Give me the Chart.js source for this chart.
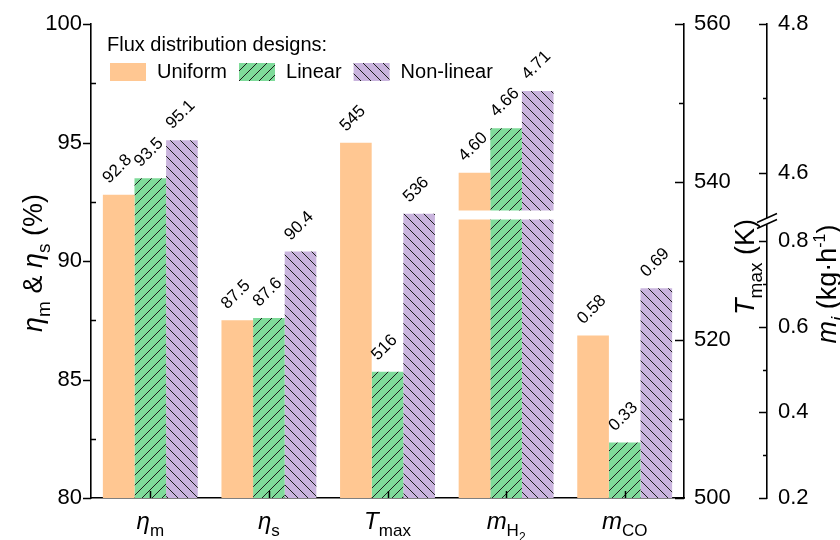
<!DOCTYPE html>
<html>
<head>
<meta charset="utf-8">
<script src="https://cdn.jsdelivr.net/npm/chart.js@4.4.1/dist/chart.umd.min.js"></script>
<style>
  html, body { margin: 0; padding: 0; background: #fff; }
  #wrap { width: 840px; height: 540px; }
</style>
</head>
<body>
<div id="wrap"><canvas id="chart" width="840" height="540"></canvas></div>
<script>
// ---- data ----
const categories = ['ηm', 'ηs', 'Tmax', 'mH2', 'mCO'];
const seriesNames = ['Uniform', 'Linear', 'Non-linear'];
const etaM = [92.8, 93.5, 95.1];     // %
const etaS = [87.5, 87.6, 90.4];     // %
const tMax = [545, 516, 536];        // K
const mH2 = [4.60, 4.66, 4.71];      // kg·h-1
const mCO = [0.58, 0.33, 0.69];      // kg·h-1

// ---- axis ticks ----
const etaTicks = [80, 85, 90, 95, 100];
const etaMinor = [82.5, 87.5, 92.5, 97.5];
const tTicks = [500, 520, 540, 560];
const tMinor = [510, 530, 550];
const mLowTicks = [0.2, 0.4, 0.6, 0.8];
const mLowMinor = [0.3, 0.5, 0.7];
const mHighTicks = [4.6, 4.8];
const mHighMinor = [4.7];

// category labels as rich text runs: [text, style]
const categoryLabels = [
  [['η', 'i'], ['m', 'sub']],
  [['η', 'i'], ['s', 'sub']],
  [['T', 'i'], ['max', 'sub']],
  [['m', 'i'], ['H', 'sub'], ['2', 'ss']],
  [['m', 'i'], ['CO', 'sub']]
];
const legendTitle = 'Flux distribution designs:';

const FONT = "'Liberation Sans', Arial, Helvetica, sans-serif";
const INK = '#000';
const colors = ['#ffc792', '#7fdb9a', '#c9b4dd'];

function hatch(bg, dir) {
  const s = 10;
  const c = document.createElement('canvas');
  c.width = s; c.height = s;
  const g = c.getContext('2d');
  g.fillStyle = bg;
  g.fillRect(0, 0, s, s);
  g.strokeStyle = '#1c1c1c';
  g.lineWidth = 1;
  g.beginPath();
  if (dir > 0) {
    g.moveTo(0, s); g.lineTo(s, 0);
    g.moveTo(-2, 2); g.lineTo(2, -2);
    g.moveTo(s - 2, s + 2); g.lineTo(s + 2, s - 2);
  } else {
    g.moveTo(0, 0); g.lineTo(s, s);
    g.moveTo(-2, s - 2); g.lineTo(2, s + 2);
    g.moveTo(s - 2, -2); g.lineTo(s + 2, 2);
  }
  g.stroke();
  return g.createPattern(c, 'repeat');
}
const fills = [colors[0], hatch(colors[1], 1), hatch(colors[2], -1)];

// one dataset per series and value axis; the stack key keeps each series in one slot
const datasets = [];
seriesNames.forEach((name, s) => {
  const common = { label: name, stack: name, backgroundColor: fills[s], borderWidth: 0, clip: 0 };
  datasets.push({ ...common, yAxisID: 'yEta', data: [etaM[s], etaS[s], null, null, null], digits: 1, inLegend: true });
  datasets.push({ ...common, yAxisID: 'yT', data: [null, null, tMax[s], null, null], digits: 0 });
  datasets.push({ ...common, yAxisID: 'yMLow', data: [null, null, null, mH2[s], mCO[s]], digits: 2, noLabel: [3] });
  datasets.push({ ...common, yAxisID: 'yMHigh', data: [null, null, null, mH2[s], null], digits: 2, base: 4.549 });
});

// ---- rich text helper ----
function runFont(style, S) {
  switch (style) {
    case 'i': return { font: `italic ${S}px ${FONT}`, dy: 0 };
    case 'sub': return { font: `${Math.round(S * 0.72)}px ${FONT}`, dy: S * 0.3 };
    case 'subi': return { font: `italic ${Math.round(S * 0.72)}px ${FONT}`, dy: S * 0.3 };
    case 'sup': return { font: `${Math.round(S * 0.6)}px ${FONT}`, dy: -S * 0.4 };
    case 'ss': return { font: `${Math.round(S * 0.5)}px ${FONT}`, dy: S * 0.52 };
    default: return { font: `${S}px ${FONT}`, dy: 0 };
  }
}
function drawRich(ctx, runs, x, y, S) {
  ctx.textAlign = 'left';
  ctx.textBaseline = 'alphabetic';
  const widths = runs.map(([t, st]) => { ctx.font = runFont(st, S).font; return ctx.measureText(t).width; });
  const total = widths.reduce((a, b) => a + b, 0);
  let cx = x - total / 2;
  runs.forEach(([t, st], k) => {
    const f = runFont(st, S);
    ctx.font = f.font;
    ctx.fillText(t, cx, y + f.dy);
    cx += widths[k];
  });
}

// ---- plugins ----
const decorations = {
  id: 'decorations',
  afterDatasetsDraw(chart) {
    const ctx = chart.ctx;
    // value labels, rotated
    ctx.save();
    ctx.fillStyle = INK;
    ctx.font = `17px ${FONT}`;
    ctx.textAlign = 'left';
    ctx.textBaseline = 'middle';
    chart.data.datasets.forEach((ds, di) => {
      const meta = chart.getDatasetMeta(di);
      meta.data.forEach((el, i) => {
        const v = ds.data[i];
        if (v == null || (ds.noLabel && ds.noLabel.includes(i))) return;
        ctx.save();
        ctx.translate(el.x - 13, el.y - 14);
        ctx.rotate(-Math.PI / 4);
        ctx.fillText(v.toFixed(ds.digits), 0, 0);
        ctx.restore();
      });
    });
    ctx.restore();
  },
  afterDraw(chart) {
    const ctx = chart.ctx;
    const { yEta, yT, yMLow, yMHigh, x } = chart.scales;
    const area = chart.chartArea;
    ctx.save();
    ctx.strokeStyle = INK;
    ctx.fillStyle = INK;
    ctx.lineWidth = 1.5;

    const hTicks = (scale, vals, x0, len) => {
      vals.forEach(v => {
        const y = Math.round(scale.getPixelForValue(v)) + 0.5;
        ctx.moveTo(x0, y); ctx.lineTo(x0 + len, y);
      });
    };
    ctx.beginPath();
    const xl = area.left, xr = area.right, xm = yMLow.left;
    hTicks(yEta, etaTicks, xl, -8);
    hTicks(yEta, etaMinor, xl, 5);
    hTicks(yT, tTicks, xr, -9);
    hTicks(yT, tMinor, xr, -5);
    hTicks(yMLow, mLowTicks, xm, -8);
    hTicks(yMLow, mLowMinor, xm, -4);
    hTicks(yMHigh, mHighTicks, xm, -8);
    hTicks(yMHigh, mHighMinor, xm, -4);
    categories.forEach((c, i) => {
      const px = Math.round(x.getPixelForValue(i)) + 0.5;
      ctx.moveTo(px, area.bottom); ctx.lineTo(px, area.bottom - 7);
    });
    ctx.stroke();

    // axis break on the rate axis
    const yb = yMLow.top;
    ctx.fillStyle = '#fff';
    ctx.beginPath();
    ctx.moveTo(xm - 6, yb + 2); ctx.lineTo(xm + 6, yb - 4);
    ctx.lineTo(xm + 6, yb + 2); ctx.lineTo(xm - 6, yb + 8);
    ctx.closePath();
    ctx.fill();
    ctx.beginPath();
    ctx.moveTo(xm - 10, yb + 3); ctx.lineTo(xm + 10, yb - 6);
    ctx.moveTo(xm - 10, yb + 9); ctx.lineTo(xm + 10, yb);
    ctx.stroke();

    // category labels
    ctx.fillStyle = INK;
    categoryLabels.forEach((runs, i) => {
      drawRich(ctx, runs, x.getPixelForValue(i), 529, 24);
    });

    // axis titles
    const vTitle = (runs, cx, cy, S) => {
      ctx.save();
      ctx.translate(cx, cy);
      ctx.rotate(-Math.PI / 2);
      drawRich(ctx, runs, 0, S * 0.36, S);
      ctx.restore();
    };
    vTitle([['η', 'i'], ['m', 'sub'], [' & ', 'n'], ['η', 'i'], ['s', 'sub'], [' (%)', 'n']], 32, 263, 27);
    vTitle([['T', 'i'], ['max', 'sub'], [' (K)', 'n']], 744, 267, 27);
    vTitle([['m', 'i'], ['i', 'subi'], [' (kg·h', 'n'], ['-1', 'sup'], [')', 'n']], 826, 284, 27);

    // legend
    ctx.font = `20px ${FONT}`;
    ctx.textAlign = 'left';
    ctx.textBaseline = 'middle';
    ctx.fillText(legendTitle, 107, 45);
    let lx = 110;
    const ly = 63;
    chart.data.datasets.forEach(ds => {
      if (!ds.inLegend) return;
      ctx.fillStyle = ds.backgroundColor;
      ctx.fillRect(lx, ly, 36, 18);
      lx += 36 + 11;
      ctx.fillStyle = INK;
      ctx.fillText(ds.label, lx, ly + 9.5);
      lx += ctx.measureText(ds.label).width + 12;
    });
    ctx.restore();
  }
};

const border = { display: true, color: INK, width: 1.6 };
const noGrid = { display: false, drawTicks: false };
const tickFont = { family: FONT, size: 22 };
const setTicks = vals => s => { s.ticks = vals.map(v => ({ value: v })); };

new Chart(document.getElementById('chart'), {
  type: 'bar',
  data: { labels: categories, datasets },
  options: {
    responsive: false,
    animation: false,
    devicePixelRatio: 1,
    categoryPercentage: 0.8,
    barPercentage: 1.0,
    layout: { padding: { top: 20, left: 0, right: 0, bottom: 0 } },
    plugins: { legend: { display: false }, tooltip: { enabled: false } },
    scales: {
      x: {
        type: 'category', offset: true,
        grid: noGrid, border,
        ticks: { display: false },
        afterFit: s => { s.height = 42; }
      },
      yEta: {
        position: 'left', min: 80, max: 100, stacked: false,
        grid: noGrid, border,
        afterBuildTicks: setTicks(etaTicks),
        ticks: { font: tickFont, color: INK, padding: 9 },
        afterFit: s => { s.width = 91; }
      },
      yT: {
        position: 'right', min: 500, max: 560, stacked: false, weight: 0,
        grid: noGrid, border,
        afterBuildTicks: setTicks(tTicks),
        ticks: { font: tickFont, color: INK, padding: 10 },
        afterFit: s => { s.width = 83; }
      },
      yMHigh: {
        position: 'right', stack: 'mi', stackWeight: 197, weight: 1,
        min: 4.537, max: 4.8, stacked: false,
        grid: noGrid, border,
        afterBuildTicks: setTicks(mHighTicks),
        ticks: { font: tickFont, color: INK, padding: 11, callback: v => Number(v).toFixed(1) },
        afterFit: s => { s.width = 73; }
      },
      yMLow: {
        position: 'right', stack: 'mi', stackWeight: 281, weight: 2,
        min: 0.2, max: 0.851, stacked: false,
        grid: noGrid, border,
        afterBuildTicks: setTicks(mLowTicks),
        ticks: { font: tickFont, color: INK, padding: 11, callback: v => Number(v).toFixed(1) },
        afterFit: s => { s.width = 73; }
      }
    }
  },
  plugins: [decorations]
});
</script>
</body>
</html>
